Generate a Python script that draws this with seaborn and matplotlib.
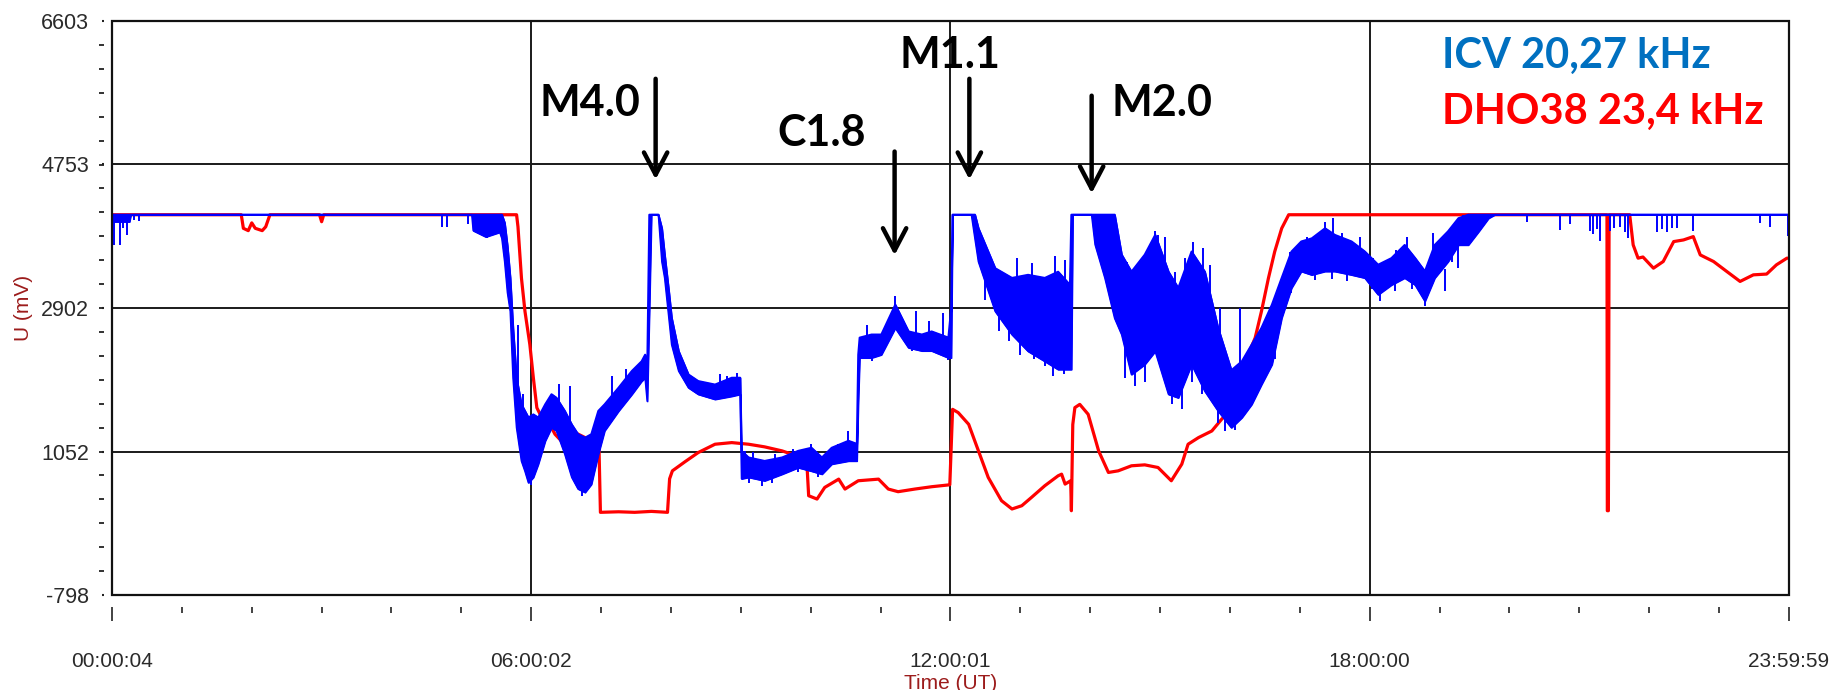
import numpy as np
import pandas as pd
import matplotlib
matplotlib.use("Agg")
import matplotlib.pyplot as plt
import seaborn as sns
from matplotlib.ticker import FixedLocator
from matplotlib.patches import Rectangle

# ---------------------------------------------------------------
# VLF receiver amplitudes, time in hours UT
# ---------------------------------------------------------------
SAT = 4105  # receiver saturation level (mV)

# ICV 20,27 kHz: noisy signal given as lower / upper envelope
icv_t = [0.00, 0.25, 0.27, 5.15, 5.17, 5.35, 5.55, 5.58, 5.62, 5.66, 5.70, 5.74,
         5.79, 5.86, 5.91, 5.96, 6.03, 6.10, 6.20, 6.29, 6.36, 6.48, 6.58, 6.67,
         6.77, 6.86, 6.96, 7.05, 7.25, 7.44, 7.58, 7.63, 7.66, 7.69, 7.72, 7.82,
         7.87, 7.91, 7.97, 8.01, 8.11, 8.25, 8.39, 8.63, 8.87, 8.99, 9.01, 9.11,
         9.34, 9.59, 9.82, 10.01, 10.16, 10.30, 10.54, 10.66, 10.68, 10.70, 10.87,
         11.01, 11.21, 11.40, 11.59, 11.73, 11.97, 12.01, 12.03, 12.30, 12.35,
         12.40, 12.64, 12.88, 13.11, 13.35, 13.54, 13.71, 13.73, 13.75, 14.02,
         14.07, 14.21, 14.35, 14.45, 14.59, 14.78, 14.93, 15.12, 15.26, 15.45,
         15.64, 15.83, 16.02, 16.17, 16.31, 16.45, 16.60, 16.74, 16.88, 17.02,
         17.17, 17.36, 17.50, 17.74, 17.93, 18.12, 18.31, 18.50, 18.65, 18.79,
         18.93, 19.12, 19.27, 19.41, 19.56, 19.70, 19.79, 24.00]
icv_lo = [4015, 4015, 4105, 4105, 3900, 3820, 3880, 3800, 3500, 3100, 2860, 2000,
          1360, 930, 800, 650, 720, 890, 1190, 1360, 1320, 1020, 720, 570,
          525, 630, 1020, 1320, 1575, 1790, 1960, 2000, 1700, 2860, 4105, 4105,
          3500, 3290, 2775, 2430, 2090, 1875, 1790, 1725, 1765, 1790, 700, 720,
          675, 760, 845, 800, 760, 890, 930, 930, 1700, 2260, 2260,
          2300, 2645, 2390, 2350, 2350, 2260, 2260, 4105, 4105, 3800,
          3500, 2860, 2560, 2345, 2215, 2110, 2110, 2110, 4105, 4105,
          3720, 3290, 2770, 2560, 2045, 2175, 2345, 1790, 1745, 2175,
          1830, 1575, 1360, 1490, 1660, 1915, 2175, 2775, 3160, 3375,
          3330, 3375, 3375, 3330, 3290, 3075, 3200, 3290, 3200, 2990,
          3290, 3500, 3715, 3715, 3890, 4060, 4105, 4105]
icv_hi = [4105, 4105, 4105, 4105, 4105, 4105, 4105, 4105, 4000, 3700, 3290, 2645,
          2000, 1660, 1575, 1490, 1530, 1490, 1660, 1790, 1745, 1575, 1400, 1275,
          1230, 1275, 1575, 1660, 1875, 2090, 2215, 2300, 2090, 4105, 4105, 4105,
          3930, 3590, 3115, 2775, 2345, 2045, 1960, 1915, 2003, 2003, 1060, 975,
          930, 975, 1060, 1100, 975, 1100, 1190, 1150, 2300, 2520, 2560,
          2560, 2945, 2600, 2560, 2600, 2520, 2900, 4105, 4105, 4105,
          3930, 3415, 3290, 3330, 3290, 3370, 3200, 4105, 4105, 4105,
          4105, 4105, 4105, 3590, 3370, 3590, 3845, 3370, 3160, 3630,
          3370, 2645, 2100, 2215, 2430, 2645, 2945, 3290, 3630, 3760,
          3800, 3930, 3845, 3760, 3630, 3460, 3545, 3715, 3545, 3375,
          3715, 3890, 4060, 4105, 4105, 4105, 4105, 4105]

# ICV needle spikes: (time, bottom, top)
icv_spikes = [
    (0.03, 3716, 4105), (0.11, 3716, 4105), (0.16, 3930, 4105), (0.22, 3844, 4105),
    (0.32, 4037, 4105), (0.39, 4020, 4105), (4.72, 3951, 4105), (4.79, 3951, 4105),
    (5.10, 3990, 4105), (5.36, 3800, 4105), (5.45, 3860, 4105),
    (5.81, 1700, 2688), (5.88, 900, 1800), (6.00, 620, 1300), (6.39, 1400, 1917),
    (6.55, 1300, 1895), (6.72, 480, 900), (7.15, 1600, 2024), (7.36, 1800, 2110),
    (8.70, 1850, 2046), (8.80, 1850, 2030), (8.95, 1850, 2060),
    (9.06, 800, 1060), (9.11, 640, 850), (9.18, 800, 1040), (9.30, 611, 800),
    (9.44, 640, 850), (9.49, 780, 1020), (9.75, 850, 1082), (9.82, 790, 950),
    (9.87, 850, 1040), (10.01, 900, 1146), (10.11, 720, 900), (10.39, 900, 1146),
    (10.54, 1000, 1317),
    (10.81, 2400, 2688), (10.88, 2217, 2400), (11.21, 2700, 3052), (11.45, 2345, 2450),
    (11.50, 2500, 2860), (11.69, 2450, 2731), (11.89, 2400, 2840), (11.97, 2238, 2400),
    (12.49, 3000, 3373), (12.59, 3000, 3352), (12.80, 2800, 3300), (12.95, 2800, 3545),
    (13.17, 2700, 3480), (13.50, 2600, 3579), (13.64, 2600, 3523),
    (12.69, 2600, 3000), (12.84, 2480, 3000), (12.99, 2300, 2800), (13.20, 2250, 2800),
    (13.35, 2150, 2700), (13.47, 2030, 2700), (13.62, 2050, 2700),
    (14.40, 3000, 3587), (14.52, 3000, 3502), (14.83, 3000, 3609), (14.93, 3000, 3900),
    (14.97, 2500, 3845), (15.07, 2500, 3823), (15.21, 2800, 3373), (15.35, 2800, 3545),
    (15.47, 2800, 3759), (15.62, 2800, 3673), (15.71, 2600, 3459), (15.86, 2000, 2902),
    (16.14, 1600, 2902),
    (14.50, 2000, 2600), (14.64, 1900, 2500), (14.78, 1950, 2500), (15.17, 1660, 2300),
    (15.31, 1600, 2300), (15.45, 1950, 2600), (15.60, 1800, 2400), (15.74, 1700, 2200),
    (15.83, 1420, 2000), (15.93, 1320, 1900), (16.07, 1330, 1800),
    (16.86, 3300, 3630), (17.10, 3400, 3823), (17.36, 3400, 4016), (17.48, 3400, 4058),
    (17.60, 3400, 3866), (17.86, 3300, 3823), (18.05, 3200, 3545), (18.38, 3250, 3652),
    (18.53, 3300, 3823), (18.91, 3300, 3866), (19.17, 3500, 3951), (19.34, 3700, 4100),
    (16.65, 2250, 2600), (16.88, 3100, 3300), (17.22, 3260, 3500), (17.46, 3280, 3500),
    (17.67, 3250, 3500), (18.03, 3150, 3400), (18.14, 2990, 3300), (18.36, 3120, 3400),
    (18.60, 3150, 3400), (18.79, 2930, 3200), (19.08, 3120, 3400), (19.27, 3420, 3700),
    (20.25, 4010, 4105), (20.72, 3908, 4105), (20.87, 3990, 4105), (21.15, 3900, 4105),
    (21.20, 3860, 4105), (21.25, 3920, 4105), (21.30, 3760, 4105), (21.44, 3900, 4105),
    (21.50, 3930, 4105), (21.58, 3950, 4105), (21.65, 3880, 4105), (21.70, 3800, 4105),
    (22.11, 3887, 4105), (22.18, 3920, 4105), (22.25, 3887, 4105), (22.32, 3940, 4105),
    (22.39, 3930, 4105), (22.63, 3900, 4105), (23.58, 4000, 4105), (23.73, 3950, 4105),
    (23.98, 3830, 4105),
]

# DHO38 23,4 kHz
dho_t = [0.00, 1.85, 1.88, 1.95, 2.00, 2.05, 2.15, 2.20, 2.26, 2.97, 3.00, 3.03,
         5.79, 5.81, 5.86, 5.91, 5.98, 6.03, 6.08, 6.15, 6.24, 6.34, 6.43, 6.58,
         6.77, 6.91, 6.97, 6.99, 7.25, 7.48, 7.72, 7.95, 7.98, 8.02, 8.20, 8.39,
         8.63, 8.87, 9.11, 9.34, 9.59, 9.73, 9.94, 9.97, 10.09, 10.20, 10.40,
         10.49, 10.68, 10.97, 11.11, 11.25, 11.49, 11.73, 11.99, 12.03, 12.11,
         12.26, 12.40, 12.54, 12.73, 12.88, 13.02, 13.16, 13.35, 13.54, 13.59,
         13.64, 13.72, 13.73, 13.75, 13.78, 13.85, 13.97, 14.12, 14.26, 14.40,
         14.59, 14.78, 14.97, 15.16, 15.31, 15.40, 15.55, 15.74, 15.88, 15.95,
         16.22, 16.36, 16.45, 16.55, 16.64, 16.74, 16.84, 21.395, 21.40, 21.415,
         21.42, 21.425, 21.72, 21.77, 21.84, 21.91, 22.06, 22.20, 22.35, 22.49,
         22.63, 22.73, 22.92, 23.11, 23.30, 23.49, 23.68, 23.82, 23.97, 24.00]
dho_v = [4105, 4105, 3930, 3900, 4000, 3930, 3900, 3950, 4105, 4105, 4015, 4105,
         4105, 3950, 3287, 2860, 2431, 2003, 1617, 1489, 1446, 1275, 1189, 1317,
         1232, 1146, 1082, 268, 275, 268, 280, 268, 700, 803, 920, 1039,
         1146, 1167, 1146, 1112, 1060, 1017, 975, 482, 439, 589, 696,
         568, 675, 696, 568, 534, 568, 598, 623, 1596, 1554,
         1403, 1060, 718, 418, 311, 353, 461, 611, 739, 760,
         632, 675, 289, 1400, 1618, 1660, 1532, 1060, 782, 803,
         868, 880, 846, 675, 889, 1146, 1232, 1317, 1468, 1532,
         2217, 2517, 2859, 3287, 3630, 3930, 4105, 4105, 289, 289,
         2000, 4105, 4105, 3716, 3545, 3560, 3416, 3502, 3759, 3780,
         3823, 3587, 3502, 3373, 3245, 3330, 3340, 3459, 3545, 3545]

# flare annotations: label, label position, arrow time, arrow top, arrow tip
flare_label = ["M4.0", "C1.8", "M1.1", "M2.0"]
flare_label_t = [6.84, 10.16, 12.00, 15.02]
flare_label_v = [5549, 5164, 6166, 5549]
flare_arrow_t = [7.78, 11.20, 12.27, 14.02]
flare_arrow_top = [5858, 4920, 5858, 5640]
flare_arrow_tip = [4560, 3583, 4560, 4380]

y_ticks = [-798, 1052, 2902, 4753, 6603]
x_ticks = [0, 6, 12, 18, 24]
x_tick_labels = ["00:00:04", "06:00:02", "12:00:01", "18:00:00", "23:59:59"]

# ---------------------------------------------------------------
sns.set_theme(style="white")
plt.rcParams["font.family"] = ["Liberation Sans", "DejaVu Sans"]

W, H = 1849, 690
fig = plt.figure(figsize=(W / 100, H / 100), dpi=100)
ax = fig.add_axes([112 / W, 1 - 595 / H, 1677 / W, 574 / H])

BLUE = "#0000ff"
RED = "#ff0000"

icv = pd.DataFrame({"t": icv_t, "lo": icv_lo, "hi": icv_hi})
dho = pd.DataFrame({"t": dho_t, "v": dho_v})
spk = pd.DataFrame(icv_spikes, columns=["t", "lo", "hi"])

sns.lineplot(data=dho, x="t", y="v", ax=ax, color=RED, lw=2.3,
             sort=False, estimator=None, zorder=2)

ax.fill_between(icv["t"], icv["lo"], icv["hi"], color=BLUE, lw=1.0,
                edgecolor=BLUE, zorder=3)
sns.lineplot(data=icv, x="t", y="hi", ax=ax, color=BLUE, lw=1.5,
             sort=False, estimator=None, zorder=3)
sns.lineplot(data=icv, x="t", y="lo", ax=ax, color=BLUE, lw=1.2,
             sort=False, estimator=None, zorder=3)
ax.vlines(spk["t"], spk["lo"], spk["hi"], color=BLUE, lw=1.4, zorder=3)

# axes limits, ticks, grid
ax.set_xlim(0, 24)
ax.set_ylim(-798, 6603)
ax.xaxis.set_major_locator(FixedLocator(x_ticks))
ax.xaxis.set_minor_locator(FixedLocator(list(range(25))))
ax.set_xticklabels(x_tick_labels)
ax.yaxis.set_major_locator(FixedLocator(y_ticks))
ax.yaxis.set_minor_locator(FixedLocator(np.linspace(-798, 6603, 25)))
ax.set_yticklabels([str(v) for v in y_ticks])
ax.set_xlabel("")
ax.set_ylabel("")

ax.grid(True, which="major", color="#1a1a1a", lw=1.4)
ax.set_axisbelow(True)

for s in ax.spines.values():
    s.set_visible(False)
ax.spines["bottom"].set_position(("outward", 8.6))
ax.spines["left"].set_position(("outward", 6.0))
ax.add_patch(Rectangle((0, 0), 1, 1, transform=ax.transAxes, fill=False,
                       lw=1.6, ec="#111111", zorder=6, clip_on=False))

ax.tick_params(axis="x", which="major", bottom=True, direction="out",
               length=10, width=1.2, color="#222222", pad=22.5,
               labelsize=15, labelcolor="#2a2a2a")
ax.tick_params(axis="x", which="minor", bottom=True, direction="out",
               length=4.3, width=1.2, color="#222222")
ax.tick_params(axis="y", which="major", left=True, direction="out",
               length=1.5, width=1.5, color="#222222", pad=9,
               labelsize=15.5, labelcolor="#2a2a2a")
ax.tick_params(axis="y", which="minor", left=True, direction="out",
               length=3.6, width=1.3, color="#222222")

ax.set_xlabel("Time (UT)", color="#9c1c1c", fontsize=15)
ax.xaxis.set_label_coords(0.5, -0.138)
ax.set_ylabel("U (mV)", color="#9c1c1c", fontsize=15)
ax.yaxis.set_label_coords(-0.047, 0.5)

# flare markers
for lab, lt, lv, at, atop, atip in zip(flare_label, flare_label_t, flare_label_v,
                                       flare_arrow_t, flare_arrow_top, flare_arrow_tip):
    ax.text(lt, lv, lab, ha="center", va="center", fontsize=31,
            fontweight="bold", family=["Lato", "DejaVu Sans"], color="black",
            zorder=7)
    ax.annotate("", xy=(at, atip), xytext=(at, atop),
                arrowprops=dict(arrowstyle="->, head_length=0.8, head_width=0.42",
                                lw=3.2, color="black", mutation_scale=20,
                                shrinkA=0, shrinkB=0),
                zorder=7)

# station labels
ax.text(19.03, 6153, "ICV 20,27 kHz", ha="left", va="center", fontsize=30,
        fontweight="bold", family=["Lato", "DejaVu Sans"], color="#0070c0", zorder=7)
ax.text(19.03, 5433, "DHO38 23,4 kHz", ha="left", va="center", fontsize=30,
        fontweight="bold", family=["Lato", "DejaVu Sans"], color=RED, zorder=7)

fig.savefig("out.png", dpi=100)
